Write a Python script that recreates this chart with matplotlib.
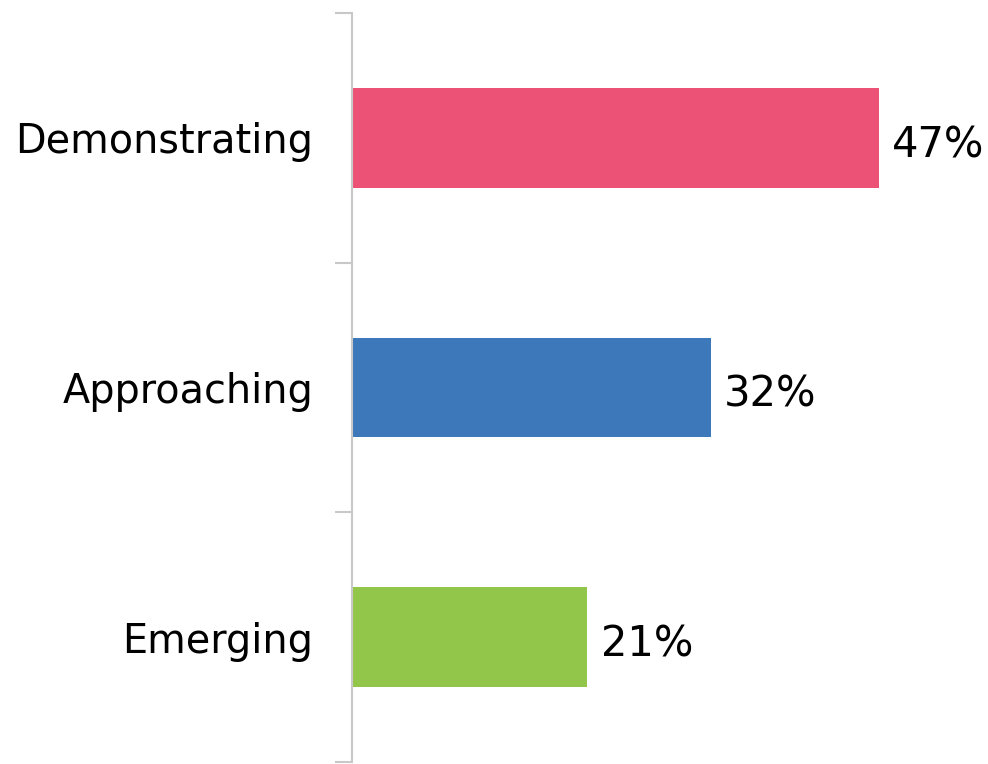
import matplotlib.pyplot as plt

categories = ['Demonstrating', 'Approaching', 'Emerging']
shares = [47, 32, 21]
bar_colors = ['#EC5275', '#3D78BA', '#92C64B']

fig = plt.figure(figsize=(9.88, 7.64), dpi=100)
ax = fig.add_axes([0.3563, 0.0026, 0.567, 0.9804])

ypos = list(range(len(categories)))
ax.barh(ypos, shares, height=0.4, color=bar_colors, edgecolor='none')

for y, v in zip(ypos, shares):
    ax.text(v + 1.2, y + 0.03, f'{v}%', va='center', ha='left',
            fontsize=30, color='black', clip_on=False)

ax.set_xlim(0, 50)
ax.set_ylim(len(categories) - 0.5, -0.5)

# category boundaries carry the ticks, labels sit between them
ax.set_yticks([y - 0.5 for y in ypos] + [len(categories) - 0.5])
ax.set_yticklabels([])
ax.set_yticks(ypos, minor=True)
ax.set_yticklabels(categories, minor=True, fontsize=28.6)
ax.tick_params(axis='y', which='major', length=12, width=1.5, color='#c8c8c8',
               direction='out')
ax.tick_params(axis='y', which='minor', length=0, pad=28)

ax.set_xticks([])
ax.spines[['top', 'right', 'bottom']].set_visible(False)
ax.spines['left'].set_color('#c8c8c8')
ax.spines['left'].set_linewidth(1.5)

fig.savefig('out.png', dpi=100)
